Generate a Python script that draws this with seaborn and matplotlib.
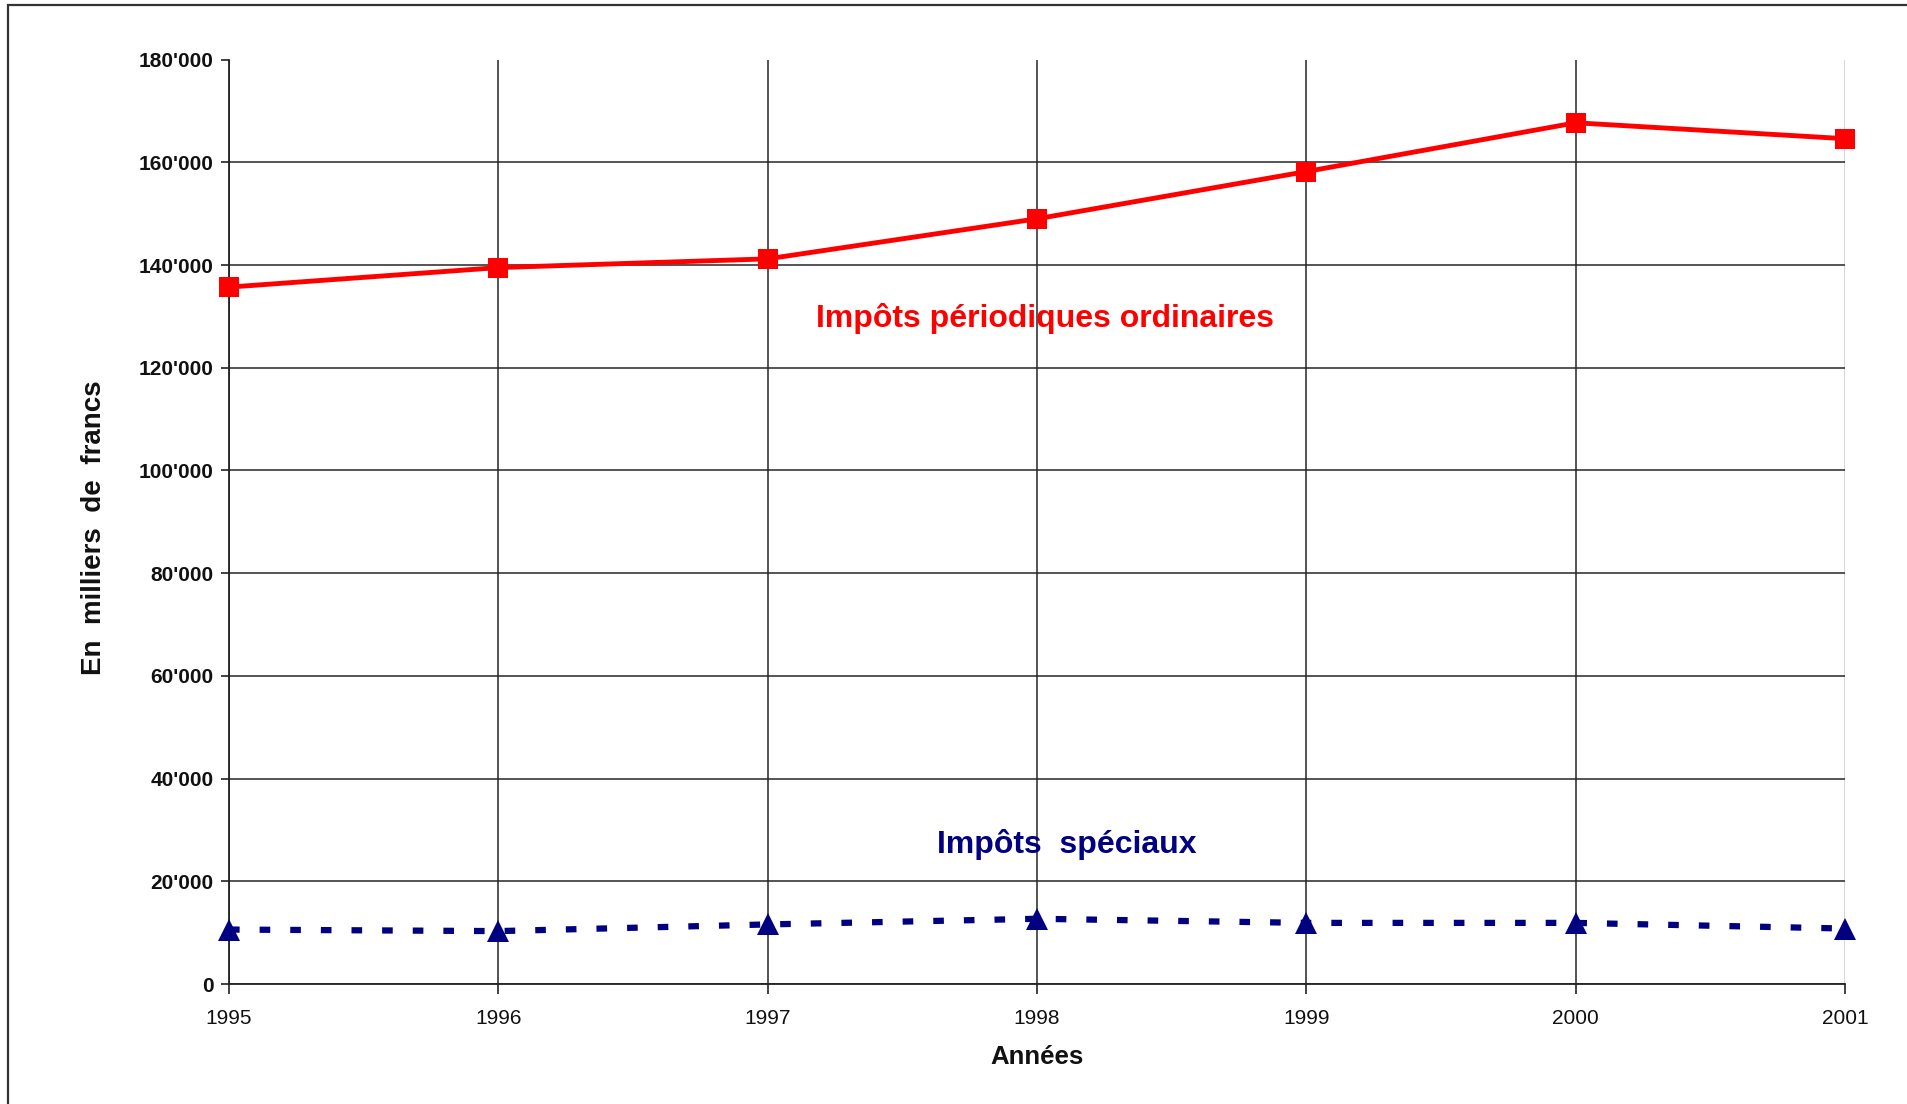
import matplotlib
matplotlib.use("Agg")
import matplotlib.pyplot as plt
import seaborn as sns
import pandas as pd
from matplotlib.patches import Rectangle

# ---- data ----
years = [1995, 1996, 1997, 1998, 1999, 2000, 2001]
impots_periodiques = [135700, 139500, 141200, 149000, 158200, 167700, 164600]
impots_speciaux = [10600, 10300, 11600, 12700, 11900, 11900, 10800]
y_ticks = [0, 20000, 40000, 60000, 80000, 100000, 120000, 140000, 160000, 180000]
label_periodiques = "Impôts périodiques ordinaires"
label_speciaux = "Impôts  spéciaux"
x_title = "Années"
y_title = "En  milliers  de  francs"

sns.set_theme(style="white")
plt.rcParams['font.family'] = ['Liberation Sans', 'DejaVu Sans']

W, H = 1907, 1104
fig = plt.figure(figsize=(W / 100, H / 100), dpi=100)
fig.patch.set_facecolor("white")
x0, x1, ytop, ybot = 229, 1845, 59.6, 984
ax = fig.add_axes([x0 / W, 1 - ybot / H, (x1 - x0) / W, (ybot - ytop) / H])
ax.set_facecolor("white")

df = pd.DataFrame({"annee": years,
                   "periodiques": impots_periodiques,
                   "speciaux": impots_speciaux})

sns.lineplot(data=df, x="annee", y="periodiques", ax=ax, color="#ff0000",
             linewidth=3.5, marker="s", markersize=14, markeredgewidth=0,
             markeredgecolor="#ff0000", zorder=4, clip_on=False)
sns.lineplot(data=df, x="annee", y="speciaux", ax=ax, color="#000080",
             linewidth=4.5, linestyle=(0, (1.7, 3.2)), dash_capstyle="butt",
             marker="^", markersize=15.5, markeredgewidth=0,
             markeredgecolor="#000080", zorder=4, clip_on=False)

ax.set_xlim(years[0], years[-1])
ax.set_ylim(y_ticks[0], y_ticks[-1])
ax.set_xticks(years)
ax.set_xticklabels([str(y) for y in years])
ax.set_yticks(y_ticks)
ax.set_yticklabels(["0" if v == 0 else f"{v:,}".replace(",", "'") for v in y_ticks])

ax.tick_params(axis="y", left=True, direction="out", length=6, width=1.2,
               color="#222222", pad=5, labelsize=15, labelcolor="#111111")
ax.tick_params(axis="x", bottom=True, direction="out", length=7, width=1.2,
               color="#222222", pad=11, labelsize=15, labelcolor="#111111")
for lab in ax.get_yticklabels():
    lab.set_fontweight("bold")

ax.grid(True, color="#262626", linewidth=1.1, zorder=1)
ax.set_axisbelow(True)
ax.xaxis.get_gridlines()[-1].set_color("#cccccc")
ax.yaxis.get_gridlines()[-1].set_visible(False)

for s in ["top", "right"]:
    ax.spines[s].set_visible(False)
for s in ["left", "bottom"]:
    ax.spines[s].set_color("#222222")
    ax.spines[s].set_linewidth(1.3)

ax.text(1998.03, 128000, label_periodiques, color="#ff0000", fontsize=23,
        fontweight="bold", ha="center", va="baseline", zorder=5)
ax.text(1998.11, 25500, label_speciaux, color="#000080", fontsize=23,
        fontweight="bold", ha="center", va="baseline", zorder=5)

ax.set_xlabel(x_title, fontsize=18.5, fontweight="bold", color="#111111")
ax.xaxis.set_label_coords(0.5, -0.066)
ax.set_ylabel(y_title, fontsize=20, fontweight="bold", color="#111111")
ax.yaxis.set_label_coords(-0.0752, 0.4933)

# outer frame (cut off at right and bottom edges)
fig.patches.append(Rectangle((8 / W, -0.5), 2.0, 0.5 + (1 - 5 / H),
                             transform=fig.transFigure, fill=False,
                             edgecolor="#333333", linewidth=1.6))

fig.savefig("out.png", dpi=100)
